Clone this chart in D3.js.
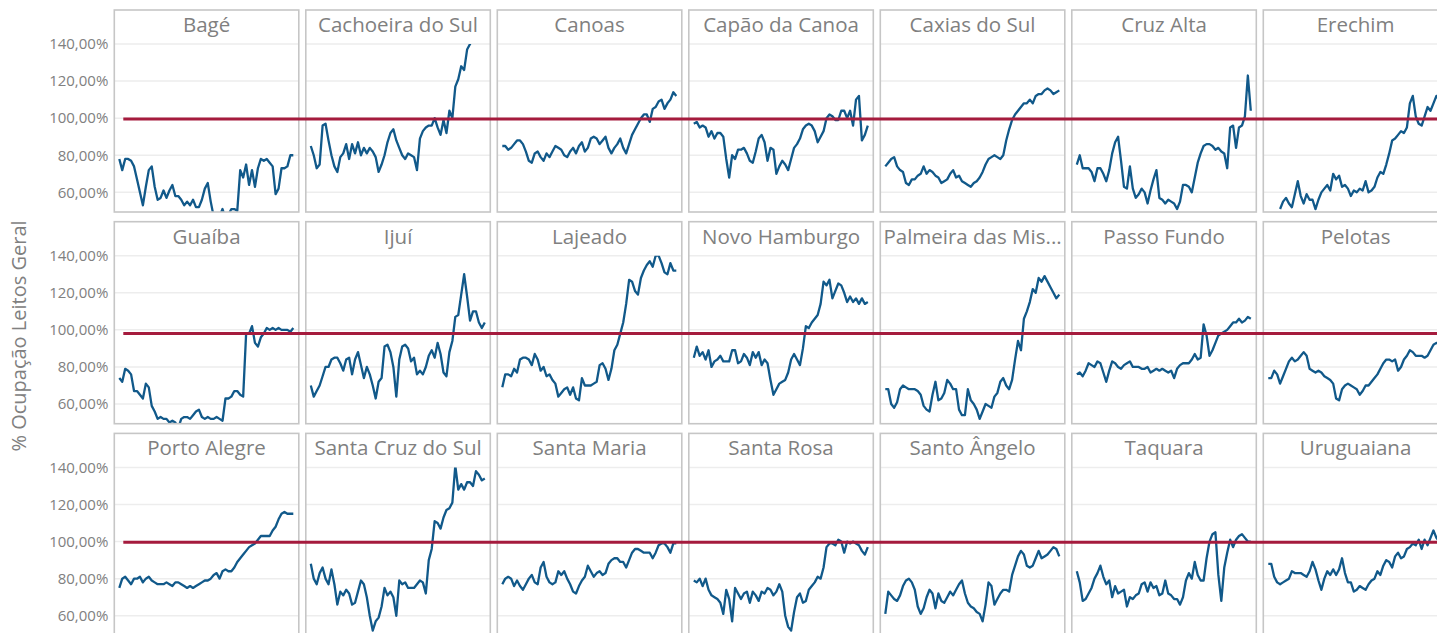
<!DOCTYPE html>
<html>
<head>
<meta charset="utf-8">
<script src="https://cdn.jsdelivr.net/npm/d3@7"></script>
<style>
  body { margin: 0; background: #fff; }
  text { font-family: "Open Sans", "Noto Sans", sans-serif; }
</style>
</head>
<body>
<div id="chart"></div>
<script>
var W = 1437, H = 633;

// panel titles (small multiples, 3 rows x 7 cols)
var cities = [
  "Bagé", "Cachoeira do Sul", "Canoas", "Capão da Canoa", "Caxias do Sul", "Cruz Alta", "Erechim",
  "Guaíba", "Ijuí", "Lajeado", "Novo Hamburgo", "Palmeira das Missões", "Passo Fundo", "Pelotas",
  "Porto Alegre", "Santa Cruz do Sul", "Santa Maria", "Santa Rosa", "Santo Ângelo", "Taquara", "Uruguaiana"
];

var yTicks = [60, 80, 100, 120, 140];
var tickLabels = ["60,00%", "80,00%", "100,00%", "120,00%", "140,00%"];
// reference line value for each row
var rowRef = [99.5, 98, 99.7];

// % ocupação, same dates for every city
var bage = [78,72,78,78,77,74,67,60,53,63,72,74,63,56,57,61,57,61,64,58,58,56,53,55,53,56,52,52,56,62,65,55,47,45,47,51,46,48,51,51,50,72,68,75,64,72,63,73,78,77,78,76,74,59,62,73,73,74,80,80];
var cachoeira = [85,80,73,75,96,97,88,80,74,71,79,81,86,78,86,81,87,80,84,81,84,82,79,71,75,80,87,92,94,88,84,80,78,81,80,79,72,89,93,95,96,96,100,95,91,99,92,104,100,117,121,128,126,137,140,144,146,148,150,149];
var canoas = [85,85,83,84,86,88,88,86,82,77,76,81,82,79,77,81,79,82,85,84,83,80,79,82,84,81,85,87,82,84,89,90,89,86,88,90,84,81,84,86,89,84,81,86,91,94,97,100,102,102,98,105,106,109,110,105,108,110,114,112];
var capao = [97,98,95,96,95,90,93,89,92,92,90,78,68,80,78,83,83,84,81,77,76,82,89,91,87,77,84,83,70,74,77,75,72,78,84,86,89,94,96,97,96,93,87,90,93,100,102,101,99,99,104,104,100,104,96,110,112,88,91,96];
var caxias = [74,76,78,79,74,72,71,65,64,67,67,69,70,74,70,72,71,69,68,65,66,67,70,72,68,69,66,65,64,63,65,66,68,71,75,78,79,80,79,78,80,88,94,99,102,104,106,108,108,110,108,112,113,113,115,116,115,113,114,115];
var cruzAlta = [75,80,73,73,73,71,66,73,73,70,66,72,81,87,90,77,63,62,74,62,57,59,62,60,54,61,67,72,57,56,54,56,55,54,51,55,64,64,63,60,68,76,81,85,86,86,85,83,84,82,81,73,95,96,84,95,96,101,123,104];
var erechim = [null,null,null,null,51,55,57,54,52,59,66,58,54,59,56,56,51,56,60,62,64,61,70,67,69,63,64,62,58,61,60,62,61,66,60,61,63,68,71,70,75,81,88,89,91,93,92,95,108,112,101,97,96,101,106,104,108,112,110,108];
var guaiba = [74,72,79,78,76,67,67,65,63,71,69,59,56,52,53,52,52,50,51,50,47,52,53,53,52,54,56,57,53,52,53,52,52,53,52,51,63,63,64,67,67,65,64,98,98,102,93,91,96,98,101,100,101,100,101,100,100,100,99,101];
var ijui = [70,64,67,70,75,80,80,84,85,85,82,78,84,85,76,84,88,81,74,80,76,70,63,72,74,91,92,88,80,64,84,91,92,90,83,85,76,78,76,80,86,89,85,93,87,77,75,88,94,107,108,119,130,118,105,110,110,104,101,104];
var lajeado = [69,76,76,75,79,77,84,85,85,84,81,87,84,78,80,75,76,73,71,64,66,68,69,65,69,63,62,74,70,70,70,71,72,81,82,79,73,79,89,92,98,104,114,127,126,121,119,128,132,135,137,134,140,140,136,131,130,136,132,132];
var novoHamburgo = [85,91,86,88,84,89,80,83,84,86,83,83,83,89,89,82,83,87,85,81,88,85,88,81,84,82,73,65,68,71,72,73,77,84,87,84,81,90,102,101,104,106,108,114,126,124,127,117,121,125,124,120,115,118,115,117,114,117,114,115];
var palmeira = [68,68,60,58,61,68,70,69,68,68,68,67,65,59,57,56,65,72,62,63,66,73,71,68,68,57,54,54,68,62,60,57,52,56,60,59,58,64,66,72,74,70,68,73,84,94,89,106,110,115,122,120,128,126,129,126,123,120,117,119];
var passoFundo = [76,77,75,78,82,81,80,83,82,77,72,78,83,82,80,79,81,82,83,80,80,80,79,79,80,77,78,79,78,79,78,77,78,74,79,81,82,82,82,84,87,84,85,103,97,86,89,93,97,98,99,100,102,104,104,106,104,105,107,106];
var pelotas = [74,74,78,76,71,75,79,83,85,83,84,86,88,86,79,78,77,78,77,75,74,73,71,63,62,68,70,71,70,69,68,65,67,70,70,72,74,76,79,82,84,84,83,84,78,80,84,86,89,88,86,86,86,85,86,89,92,93,92,93];
var portoAlegre = [75,80,81,79,77,80,80,81,78,80,81,79,78,77,77,77,78,77,76,78,78,77,76,75,76,75,76,77,78,79,79,80,82,83,80,84,85,84,84,86,89,91,93,95,97,98,99,101,103,103,103,103,106,108,112,115,116,115,115,115];
var santaCruz = [88,80,77,83,86,80,77,85,77,66,73,71,74,72,66,67,73,79,77,70,60,52,57,59,65,75,71,73,70,60,79,77,78,75,75,75,77,79,78,72,90,96,111,110,107,113,117,118,121,141,128,131,128,132,132,130,138,136,133,134];
var santaMaria = [77,80,81,80,76,79,76,74,77,80,82,78,77,86,89,81,78,77,78,84,82,84,80,77,73,72,76,79,81,87,84,81,83,84,82,83,88,90,91,91,89,89,86,90,94,96,96,95,94,94,94,91,94,98,99,99,97,94,99,99];
var santaRosa = [79,78,80,76,80,74,71,70,69,67,61,74,69,57,75,72,69,72,73,67,73,71,68,73,72,75,74,71,73,77,73,60,54,52,62,70,72,67,68,74,76,78,81,80,86,97,99,99,98,101,100,94,100,99,100,99,98,95,93,97];
var santoAngelo = [61,73,71,69,68,71,76,79,80,78,74,65,61,64,70,74,72,64,72,68,67,70,73,71,74,77,79,72,67,65,64,62,61,57,66,78,76,66,69,72,74,74,73,82,87,92,95,93,87,86,87,91,95,91,92,93,95,97,96,92];
var taquara = [84,78,68,69,72,75,80,83,87,81,77,79,70,76,72,73,74,65,70,69,71,72,77,78,73,78,75,76,71,72,79,72,71,69,69,66,70,79,83,80,89,82,79,79,91,100,104,105,82,68,86,94,101,97,101,103,104,102,100,100];
var uruguaiana = [88,88,81,78,77,78,79,80,84,83,83,83,82,81,84,89,85,79,74,80,84,82,85,82,85,91,83,78,78,73,74,76,75,74,77,79,80,84,82,87,90,89,86,92,94,91,92,96,97,99,98,101,96,101,98,102,106,102,100,101];

var series = [bage, cachoeira, canoas, capao, caxias, cruzAlta, erechim,
              guaiba, ijui, lajeado, novoHamburgo, palmeira, passoFundo, pelotas,
              portoAlegre, santaCruz, santaMaria, santaRosa, santoAngelo, taquara, uruguaiana];

// layout
var nCols = 7;
var left0 = 114.3, colStep = 191.5, panelW = 184.5;
var top0 = 10, rowStep = 211.7, panelH = 202;

var svg = d3.select("#chart").append("svg")
  .attr("width", W)
  .attr("height", H);

svg.append("rect").attr("width", W).attr("height", H).attr("fill", "#fff");

var x = d3.scaleLinear().domain([0, bage.length - 1]).range([5, 179]);
var y = d3.scaleLinear().domain([49.4, 140]).range([panelH, 34]);

var line = d3.line()
  .defined(function(d) { return d != null; })
  .x(function(d, i) { return x(i); })
  .y(function(d) { return y(d); });

svg.append("defs").append("clipPath")
  .attr("id", "plotClip")
  .append("rect")
  .attr("x", 0)
  .attr("y", y(140))
  .attr("width", panelW)
  .attr("height", panelH - y(140));

var panels = svg.selectAll("g.panel")
  .data(cities)
  .enter()
  .append("g")
  .attr("class", "panel")
  .attr("transform", function(d, i) {
    return "translate(" + (left0 + (i % nCols) * colStep) + "," + (top0 + Math.floor(i / nCols) * rowStep) + ")";
  });

// gridlines
panels.selectAll("line.grid")
  .data(yTicks)
  .enter()
  .append("line")
  .attr("class", "grid")
  .attr("x1", 0)
  .attr("x2", panelW)
  .attr("y1", function(d) { return y(d); })
  .attr("y2", function(d) { return y(d); })
  .attr("stroke", "#ededed")
  .attr("stroke-width", 1.5);

panels.append("path")
  .attr("clip-path", "url(#plotClip)")
  .attr("d", function(d, i) { return line(series[i]); })
  .attr("fill", "none")
  .attr("stroke", "#11598a")
  .attr("stroke-width", 2.3)
  .attr("stroke-linejoin", "round");

panels.append("rect")
  .attr("x", 0)
  .attr("y", 0)
  .attr("width", panelW)
  .attr("height", panelH)
  .attr("fill", "none")
  .attr("stroke", "#c6c6c6")
  .attr("stroke-width", 1.6);

panels.append("text")
  .attr("x", panelW / 2)
  .attr("y", 22)
  .attr("text-anchor", "middle")
  .attr("font-size", 20.5)
  .attr("fill", "#808080")
  .text(function(d) { return d; })
  .each(function(d) {
    var t = d3.select(this);
    var s = d;
    while (this.getComputedTextLength() > panelW - 6 && s.length > 1) {
      s = s.slice(0, -1);
      t.text(s.trim() + "...");
    }
  });

// y axis labels for each row
for (var r = 0; r < 3; r++) {
  var axisG = svg.append("g")
    .attr("transform", "translate(" + (left0 - 6) + "," + (top0 + r * rowStep) + ")");
  axisG.selectAll("text")
    .data(yTicks)
    .enter()
    .append("text")
    .attr("x", 0)
    .attr("y", function(d) { return y(d); })
    .attr("dy", "0.35em")
    .attr("text-anchor", "end")
    .attr("font-size", 15)
    .attr("fill", "#808080")
    .text(function(d, i) { return tickLabels[i]; });

  // reference line across the whole row
  svg.append("line")
    .attr("x1", left0 + 9)
    .attr("x2", W)
    .attr("y1", top0 + r * rowStep + y(rowRef[r]))
    .attr("y2", top0 + r * rowStep + y(rowRef[r]))
    .attr("stroke", "#a51b3d")
    .attr("stroke-width", 3);
}

svg.append("text")
  .attr("transform", "translate(26," + 336 + ") rotate(-90)")
  .attr("text-anchor", "middle")
  .attr("font-size", 20)
  .attr("fill", "#808080")
  .text("% Ocupação Leitos Geral");
</script>
</body>
</html>
